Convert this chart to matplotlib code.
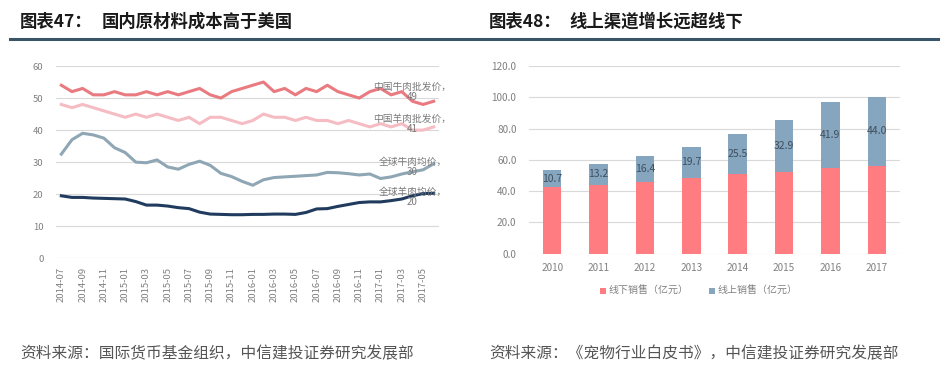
import matplotlib
matplotlib.use("Agg")
import matplotlib.pyplot as plt
from matplotlib.lines import Line2D

plt.rcParams['font.family'] = ['Noto Sans CJK SC', 'DejaVu Sans']

# 左图：月度价格（元/公斤）
months = ["2014-07", "2014-08", "2014-09", "2014-10", "2014-11", "2014-12",
          "2015-01", "2015-02", "2015-03", "2015-04", "2015-05", "2015-06",
          "2015-07", "2015-08", "2015-09", "2015-10", "2015-11", "2015-12",
          "2016-01", "2016-02", "2016-03", "2016-04", "2016-05", "2016-06",
          "2016-07", "2016-08", "2016-09", "2016-10", "2016-11", "2016-12",
          "2017-01", "2017-02", "2017-03", "2017-04", "2017-05", "2017-06"]
cn_beef = [54, 52, 53, 51, 51, 52, 51, 51, 52, 51, 52, 51, 52, 53, 51, 50, 52, 53,
           54, 55, 52, 53, 51, 53, 52, 54, 52, 51, 50, 52, 53, 51, 52, 49, 48, 49]
cn_lamb = [48, 47, 48, 47, 46, 45, 44, 45, 44, 45, 44, 43, 44, 42, 44, 44, 43, 42,
           43, 45, 44, 44, 43, 44, 43, 43, 42, 43, 42, 41, 42, 41, 42, 40, 40, 41]
world_beef = [32.5, 37, 39, 38.5, 37.5, 34.5, 33, 30, 29.8, 30.7, 28.5, 27.8,
              29.3, 30.3, 29, 26.5, 25.5, 24, 22.8, 24.5, 25.2, 25.4, 25.6, 25.8,
              26.0, 26.8, 26.7, 26.4, 26.0, 26.3, 24.9, 25.4, 26.3, 27.0, 27.6, 29.5]
world_lamb = [19.5, 19, 19, 18.8, 18.7, 18.6, 18.5, 17.7, 16.6, 16.6, 16.3, 15.8,
              15.5, 14.4, 13.8, 13.7, 13.6, 13.6, 13.7, 13.7, 13.8, 13.8, 13.7, 14.3,
              15.4, 15.5, 16.2, 16.8, 17.4, 17.6, 17.6, 18.0, 18.5, 19.5, 20.2, 20.3]
line_names = ["中国牛肉批发价，", "中国羊肉批发价，", "全球牛肉均价，", "全球羊肉均价，"]
line_ends = ["49", "41", "30", "20"]

# 右图：宠物行业销售（亿元）
years = ["2010", "2011", "2012", "2013", "2014", "2015", "2016", "2017"]
offline = [42.6, 44.2, 46.1, 48.5, 51.0, 52.4, 55.1, 56.2]
online = [10.7, 13.2, 16.4, 19.7, 25.5, 32.9, 41.9, 44.0]

grid_c = "#D9D9D9"
tick_c = "#808080"

fig = plt.figure(figsize=(9.52, 3.85), dpi=100)

# 标题
ty = 1 - 22 / 385
fig.text(20 / 952, ty, "图表47：", fontsize=12.5, fontweight="bold", color="#1a1a1a", va="center")
fig.text(102 / 952, ty, "国内原材料成本高于美国", fontsize=12.5, fontweight="bold",
         color="#1a1a1a", va="center")
fig.text(489 / 952, ty, "图表48：", fontsize=12.5, fontweight="bold", color="#1a1a1a", va="center")
fig.text(569 / 952, ty, "线上渠道增长远超线下", fontsize=12.5, fontweight="bold",
         color="#1a1a1a", va="center")
fig.add_artist(Line2D([10 / 952, 938 / 952], [1 - 39 / 385, 1 - 39 / 385],
                      color="#3A5469", lw=2.2, transform=fig.transFigure))

# ---- 左图 ----
ax1 = fig.add_axes([56 / 952, 1 - 258.3 / 385, 383 / 952, 192.3 / 385])
x = list(range(len(months)))
series = [cn_beef, cn_lamb, world_beef, world_lamb]
colors = ["#E97A80", "#F5BCC3", "#8FA6B4", "#203B5E"]
for ys, c in zip(series, colors):
    ax1.plot(x, ys, color=c, lw=2.2, solid_joinstyle="round")
label_y = [52, 42, 28.5, 19]
for name, end, ly in zip(line_names, line_ends, label_y):
    ax1.text(33, ly, name + "\n" + end, fontsize=7, color="#7a7a7a",
             ha="center", va="center", linespacing=1.0)
ax1.set_xlim(-0.5, len(months) - 0.5)
ax1.set_ylim(0, 60)
ax1.set_yticks(range(0, 61, 10))
ax1.set_xticks(x[::2])
ax1.set_xticklabels(months[::2], rotation=90)
ax1.yaxis.grid(True, color=grid_c, lw=0.8)
ax1.set_axisbelow(True)
for s in ax1.spines.values():
    s.set_visible(False)
ax1.tick_params(length=0, labelsize=6.8, colors=tick_c)
ax1.tick_params(axis="y", pad=9)
ax1.tick_params(axis="x", pad=6)

# ---- 右图 ----
ax2 = fig.add_axes([529 / 952, 1 - 253.7 / 385, 371 / 952, 187.7 / 385])
xb = list(range(len(years)))
ax2.bar(xb, offline, width=0.4, color="#FF7C80", label="线下销售（亿元）", zorder=2)
ax2.bar(xb, online, width=0.4, bottom=offline, color="#86A5BE",
        label="线上销售（亿元）", zorder=2)
for xi, b, v in zip(xb, offline, online):
    ax2.text(xi, b + v / 2, f"{v:.1f}", ha="center", va="center", fontsize=7.5,
             color="#3F4F5F", zorder=3)
ax2.set_xlim(-0.5, len(years) - 0.5)
ax2.set_ylim(0, 120)
ax2.set_yticks(range(0, 121, 20))
ax2.set_yticklabels([f"{v:.1f}" for v in range(0, 121, 20)])
ax2.set_xticks(xb)
ax2.set_xticklabels(years)
ax2.yaxis.grid(True, color=grid_c, lw=0.8, zorder=0)
ax2.set_axisbelow(True)
for s in ax2.spines.values():
    s.set_visible(False)
ax2.tick_params(length=0, labelsize=7.2, colors=tick_c)
ax2.tick_params(axis="y", pad=9)
ax2.tick_params(axis="x", pad=7)
leg = ax2.legend(loc="center", bbox_to_anchor=(0.458, -0.2), ncol=2, frameon=False,
                 fontsize=7.2, handlelength=0.6, handleheight=0.6, handletextpad=0.3,
                 columnspacing=2.0)
for t in leg.get_texts():
    t.set_color(tick_c)

# 资料来源
fig.text(20 / 952, 1 - 354 / 385, "资料来源：国际货币基金组织，中信建投证券研究发展部",
         fontsize=11.3, color="#555555", va="center")
fig.text(489 / 952, 1 - 354 / 385, "资料来源：《宠物行业白皮书》，中信建投证券研究发展部",
         fontsize=11.3, color="#555555", va="center")

fig.savefig("out.png", dpi=100)
